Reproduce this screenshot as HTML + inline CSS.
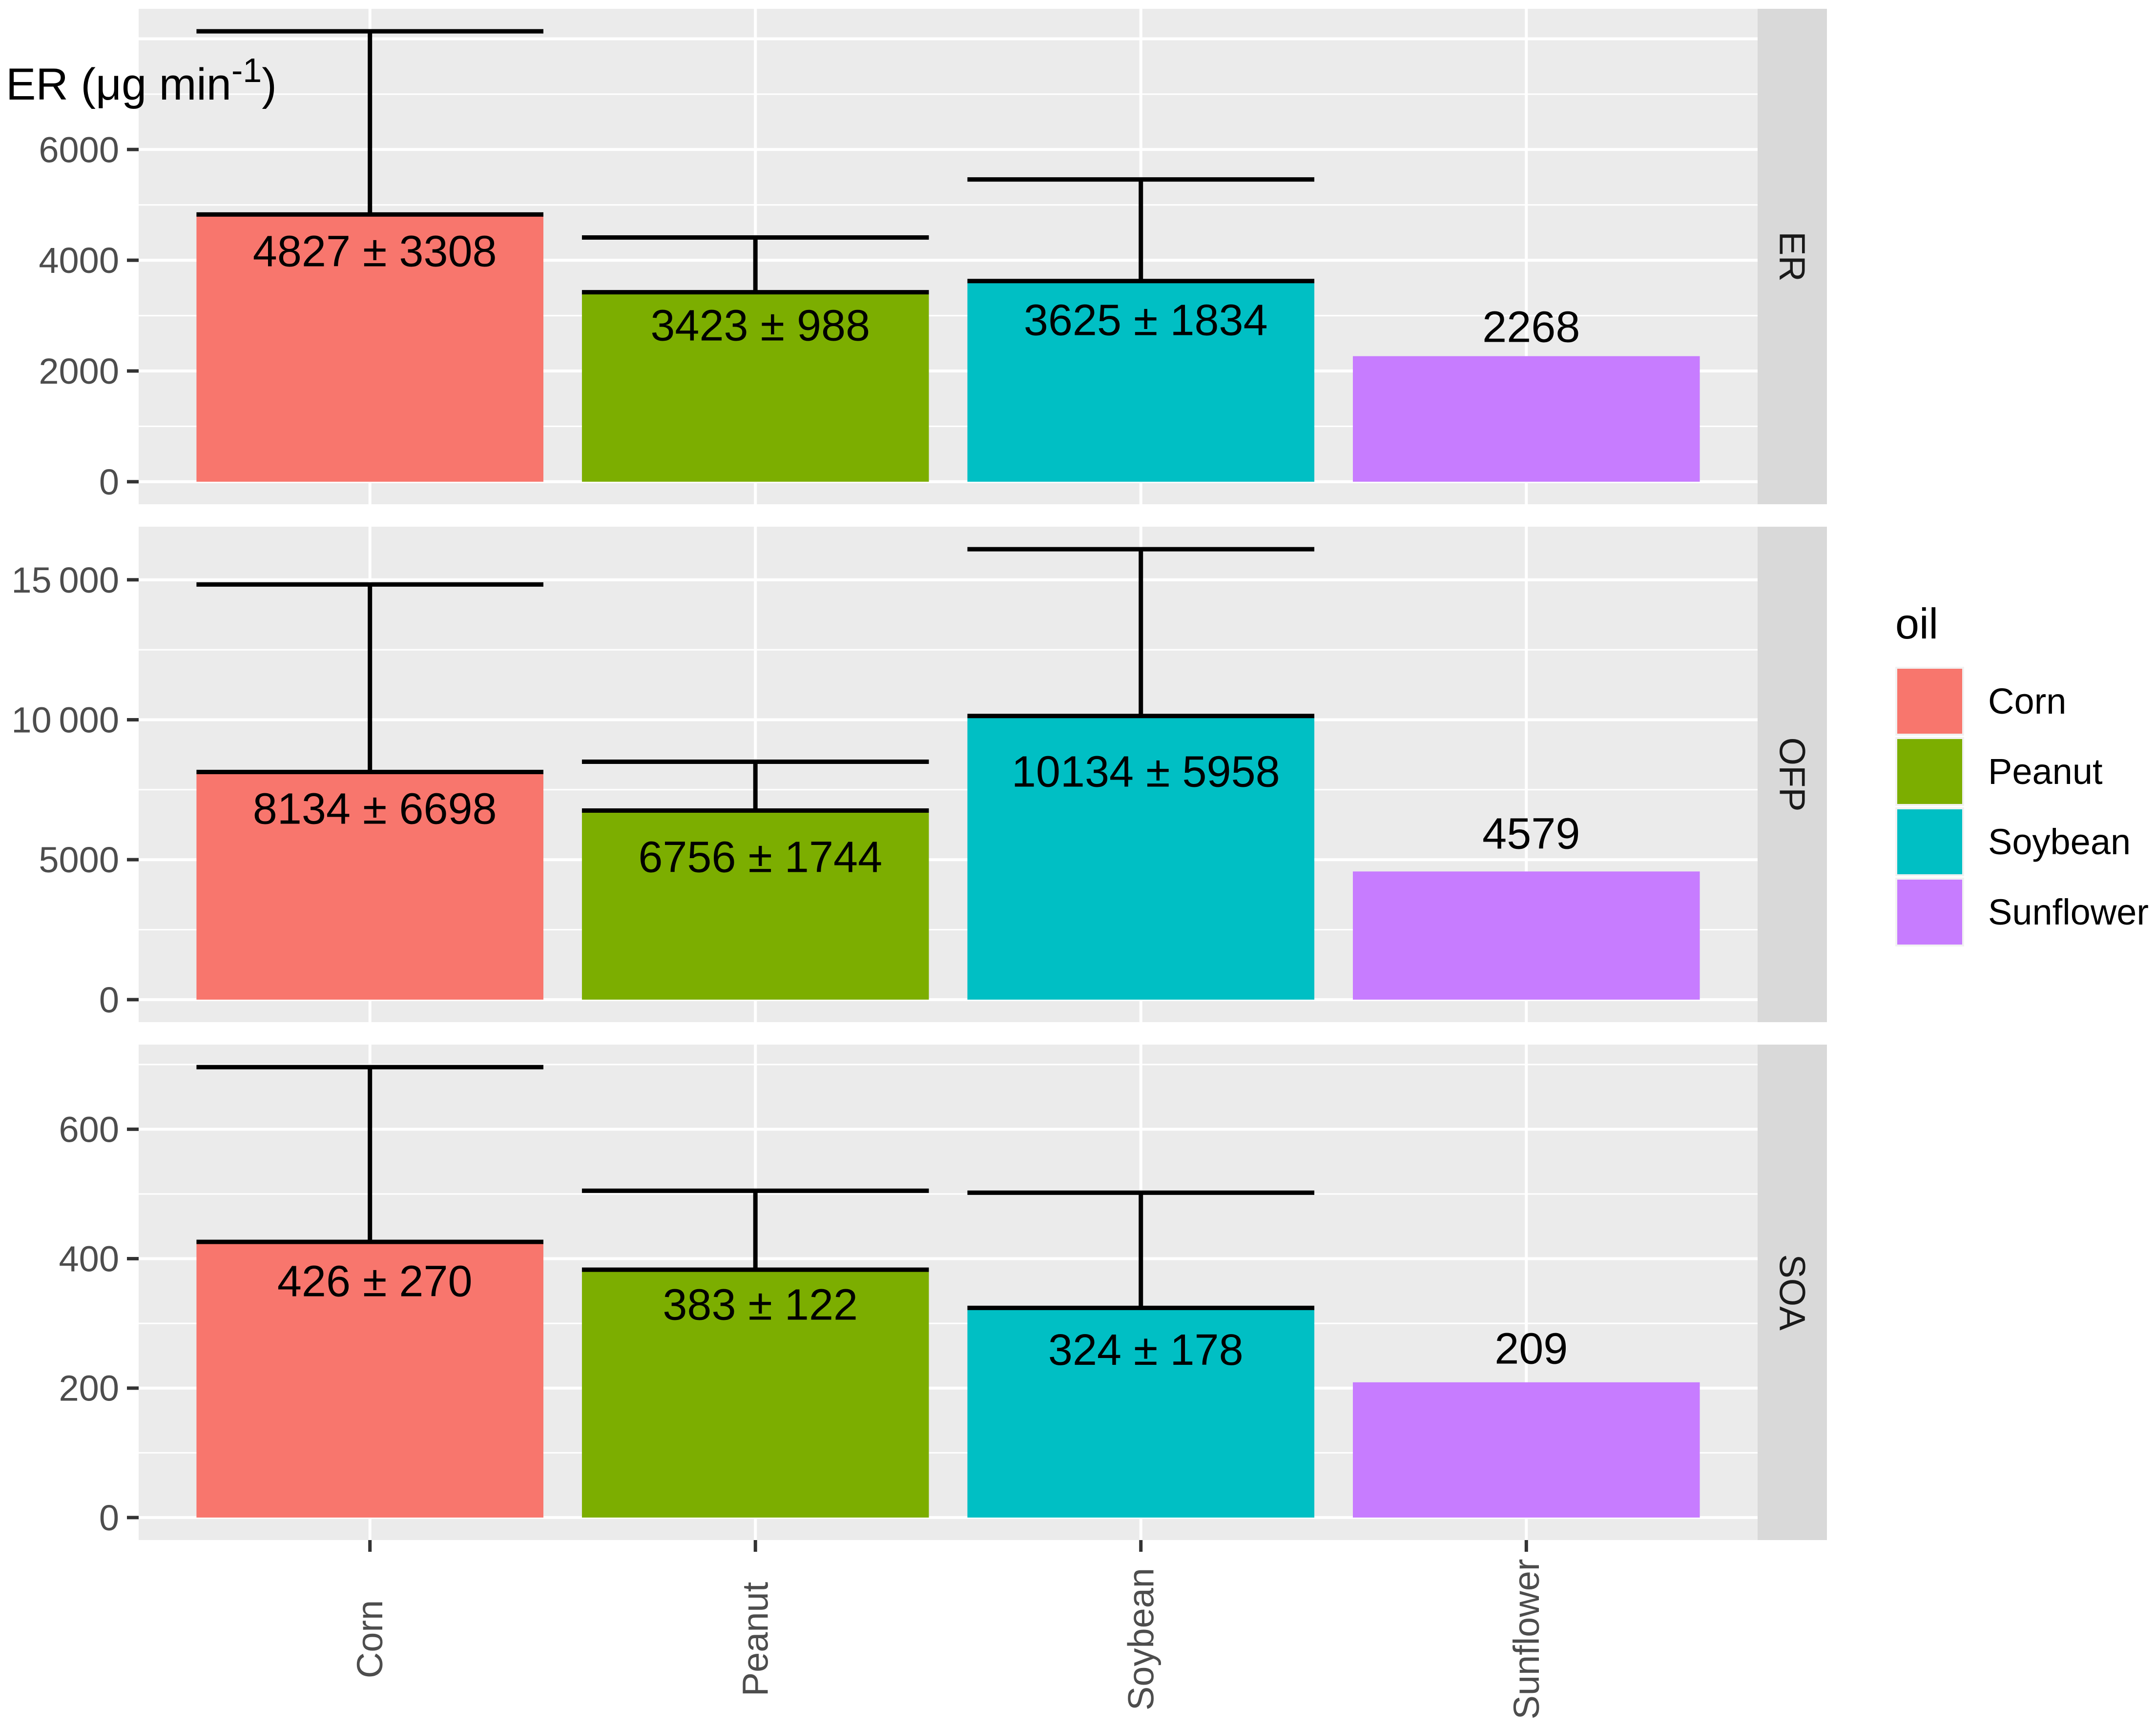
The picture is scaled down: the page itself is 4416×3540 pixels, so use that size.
<!DOCTYPE html>
<html><head><meta charset="utf-8"><style>
html,body{margin:0;padding:0;background:#fff;}
svg{display:block;font-family:"Liberation Sans",Arial,sans-serif;}
</style></head><body>
<svg id="chart" width="4416" height="3540" viewBox="0 0 4416 3540" xmlns="http://www.w3.org/2000/svg">
</svg>
<script>
const categories = ["Corn","Peanut","Soybean","Sunflower"];
const colors = ["#F8766D","#7CAE00","#00BFC4","#C77CFF"];
const facets = ["ER","OFP","SOA"];
const erMeans = [4827,3423,3625,2268];
const erSds = [3308,988,1834,null];
const ofpMeans = [8134,6756,10134,4579];
const ofpSds = [6698,1744,5958,null];
const soaMeans = [426,383,324,209];
const soaSds = [270,122,178,null];
const erLabelY = [4174,2832,2930,2806];
const ofpLabelY = [6843,5115,8170,5953];
const soaLabelY = [366,330,260,262];
const erMajor = [0,2000,4000,6000,8000];
const erTickLabels = ["0","2000","4000","6000",""];
const erMinor = [1000,3000,5000,7000];
const ofpMajor = [0,5000,10000,15000];
const ofpTickLabels = ["0","5000","10\u2009000","15\u2009000"];
const ofpMinor = [2500,7500,12500];
const soaMajor = [0,200,400,600];
const soaTickLabels = ["0","200","400","600"];
const soaMinor = [100,300,500,700];

const NS="http://www.w3.org/2000/svg";
const svg=document.getElementById('chart');
function mk(tag,attrs,parent){const e=document.createElementNS(NS,tag);for(const k in attrs)e.setAttribute(k,attrs[k]);(parent||svg).appendChild(e);return e;}

const PL=284, PR=3600, PH=1015, tops=[18,1079,2140];
const step=(PR-PL)/4.2, barW=step*0.9;
function xC(i){return PL+step*(0.6+i);}

const panels=[
 {means:erMeans,sds:erSds,lab:erLabelY,major:erMajor,tl:erTickLabels,minor:erMinor},
 {means:ofpMeans,sds:ofpSds,lab:ofpLabelY,major:ofpMajor,tl:ofpTickLabels,minor:ofpMinor},
 {means:soaMeans,sds:soaSds,lab:soaLabelY,major:soaMajor,tl:soaTickLabels,minor:soaMinor}
];

panels.forEach((p,pi)=>{
  const top=tops[pi];
  let mx=0; p.means.forEach((m,i)=>{mx=Math.max(mx,m+(p.sds[i]||0));});
  const lo=-mx*0.05, hi=mx*1.05;
  const y=v=>top+PH*(hi-v)/(hi-lo);
  const g=mk('g',{});
  
  
  const bg=mk('rect',{x:PL,y:top,width:PR-PL,height:PH,fill:'#EBEBEB'},g);
  
  
  p.minor.forEach(v=>{if(v>hi)return;const l=mk('line',{x1:PL,x2:PR,y1:y(v),y2:y(v),stroke:'#fff','stroke-width':3},g);
    
    });
  p.major.forEach((v,k)=>{if(v>hi)return;const l=mk('line',{x1:PL,x2:PR,y1:y(v),y2:y(v),stroke:'#fff','stroke-width':6},g);
    
    
    if(p.tl[k]!==""){
      const t=mk('line',{x1:PL-24,x2:PL,y1:y(v),y2:y(v),stroke:'#333','stroke-width':7});
      
      
      const tx=mk('text',{x:PL-40,y:y(v)+26,'text-anchor':'end','font-size':74,fill:'#4D4D4D'});
      tx.textContent=p.tl[k];
      
      
    }});
  categories.forEach((c,i)=>{const l=mk('line',{x1:xC(i),x2:xC(i),y1:top,y2:top+PH,stroke:'#fff','stroke-width':6},g);
    
    });
  categories.forEach((c,i)=>{
    const m=p.means[i], sd=p.sds[i];
    const b=mk('rect',{x:xC(i)-barW/2,y:y(m),width:barW,height:y(0)-y(m),fill:colors[i]},g);
    
    
    if(sd!=null){
      const eb=mk('g',{stroke:'#000','stroke-width':9},g);
      
      
      mk('line',{x1:xC(i)-barW/2,x2:xC(i)+barW/2,y1:y(m),y2:y(m)},eb);
      mk('line',{x1:xC(i)-barW/2,x2:xC(i)+barW/2,y1:y(m+sd),y2:y(m+sd)},eb);
      mk('line',{x1:xC(i),x2:xC(i),y1:y(m),y2:y(m+sd)},eb);
    }
    const t=mk('text',{x:xC(i)+10,y:y(p.lab[i])+32,'text-anchor':'middle','font-size':90,fill:'#000'},g);
    t.textContent = sd!=null ? (m+' ± '+sd) : String(m);
    
    
  });
  const s=mk('rect',{x:PR,y:top,width:142,height:PH,fill:'#D9D9D9'});
  
  
  const cx=PR+71, cy=top+PH/2;
  const st=mk('text',{x:cx,y:cy,'text-anchor':'middle','dominant-baseline':'central','font-size':74,fill:'#1A1A1A',transform:`rotate(90 ${cx} ${cy})`});
  st.textContent=facets[pi];
  
  
});

const bottom=tops[2]+PH;
categories.forEach((c,i)=>{
  const t=mk('line',{x1:xC(i),x2:xC(i),y1:bottom,y2:bottom+24,stroke:'#333','stroke-width':7});
  
  
  const cy=3358;
  const tx=mk('text',{x:xC(i),y:cy,'text-anchor':'middle','dominant-baseline':'central','font-size':74,fill:'#4D4D4D',transform:`rotate(-90 ${xC(i)} ${cy})`});
  tx.textContent=c;
  
  
});

const title=mk('text',{x:12,y:204,'font-size':92,fill:'#000'});
title.innerHTML='ER (μg min<tspan dy="-36" font-size="70">-1</tspan><tspan dy="36">)</tspan>';



const lt=mk('text',{x:3882,y:1308,'font-size':88,fill:'#000'});
lt.textContent='oil';



const kTops=[1370,1514,1658,1802];
categories.forEach((c,i)=>{
  const bgk=mk('rect',{x:3882,y:kTops[i]-4,width:141,height:141,fill:'#F2F2F2'});
  
  
  const k=mk('rect',{x:3886,y:kTops[i],width:133,height:133,fill:colors[i]});
  
  
  const t=mk('text',{x:4072,y:kTops[i]+66+26,'font-size':74,fill:'#000'});
  t.textContent=c;
  
  
});
</script>
</body></html>
